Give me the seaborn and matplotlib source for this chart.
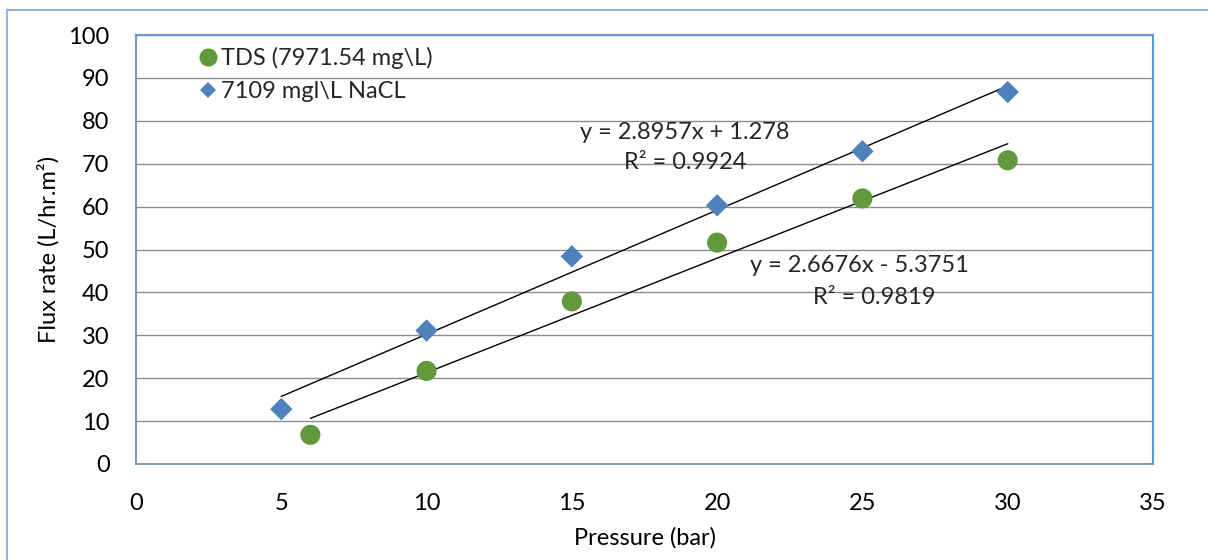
import numpy as np
import pandas as pd
import matplotlib
matplotlib.use("Agg")
import matplotlib.pyplot as plt
from matplotlib.patches import Rectangle
from matplotlib.lines import Line2D
import seaborn as sns

# Measured permeate flux versus applied pressure
nacl_label = "7109 mgl\\L NaCL"
tds_label = "TDS (7971.54 mg\\L)"

nacl_pressure = [5, 10, 15, 20, 25, 30]
nacl_flux = [12.8, 31.1, 48.4, 60.3, 72.9, 86.7]

tds_pressure = [6, 10, 15, 20, 25, 30]
tds_flux = [6.8, 21.7, 37.9, 51.6, 61.9, 70.8]

# Linear trendline coefficients (slope, intercept, R²)
nacl_fit = [2.8957, 1.278, 0.9924]
tds_fit = [2.6676, -5.3751, 0.9819]

x_ticks = [0, 5, 10, 15, 20, 25, 30, 35]
y_ticks = [0, 10, 20, 30, 40, 50, 60, 70, 80, 90, 100]

sns.set_theme(style="white")
plt.rcParams["font.family"] = ["Lato", "DejaVu Sans"]

GREEN = "#63993D"
BLUE = "#4F81BD"

fig = plt.figure(figsize=(12.08, 5.6), dpi=100)
ax = fig.add_axes([136 / 1208, 1 - 464 / 560, (1153 - 136) / 1208, (464 - 35) / 560])

df = pd.concat([
    pd.DataFrame({"Pressure": tds_pressure, "Flux": tds_flux, "Series": tds_label}),
    pd.DataFrame({"Pressure": nacl_pressure, "Flux": nacl_flux, "Series": nacl_label}),
])

sns.scatterplot(data=df[df.Series == tds_label], x="Pressure", y="Flux", ax=ax,
                color=GREEN, marker="o", s=210, edgecolor="none", zorder=4, legend=False)
sns.scatterplot(data=df[df.Series == nacl_label], x="Pressure", y="Flux", ax=ax,
                color=BLUE, marker="D", s=130, edgecolor="none", zorder=4, legend=False)

# Trendlines spanning each series' pressure range
for xs, (m, b, _) in [(nacl_pressure, nacl_fit), (tds_pressure, tds_fit)]:
    xx = np.array([min(xs), max(xs)])
    ax.plot(xx, m * xx + b, color="black", lw=1.0, zorder=3)

fs = 17
tfs = 17
ax.text(18.9, 77.3, f"y = {nacl_fit[0]:.4f}x + {nacl_fit[1]:.3f}", ha="center", va="center", fontsize=fs)
ax.text(18.9, 70.3, f"R² = {nacl_fit[2]:.4f}", ha="center", va="center", fontsize=fs)
ax.text(24.9, 46.3, f"y = {tds_fit[0]:.4f}x - {abs(tds_fit[1]):.4f}", ha="center", va="center", fontsize=fs)
ax.text(25.4, 38.8, f"R² = {tds_fit[2]:.4f}", ha="center", va="center", fontsize=fs)

ax.set_xlim(0, 35)
ax.set_ylim(0, 100)
ax.set_xticks(x_ticks)
ax.set_yticks(y_ticks)
ax.tick_params(axis="both", length=0, labelsize=tfs, labelcolor="black")
ax.tick_params(axis="x", pad=21)
ax.tick_params(axis="y", pad=19)
ax.yaxis.grid(True, color="#8C8C8C", lw=1.0)
ax.xaxis.grid(False)
ax.set_axisbelow(True)

for side in ["left", "bottom"]:
    ax.spines[side].set_color("#8497B0")
    ax.spines[side].set_linewidth(1.5)
for side in ["top", "right"]:
    ax.spines[side].set_color("#5B9BD5")
    ax.spines[side].set_linewidth(1.5)

ax.set_xlabel("Pressure (bar)", fontsize=fs, color="black", labelpad=9)
ax.set_ylabel("Flux rate (L/hr.m²)", fontsize=fs, color="black", labelpad=6)

handles = [
    Line2D([], [], ls="none", marker="o", color=GREEN, markersize=13, markeredgewidth=0),
    Line2D([], [], ls="none", marker="D", color=BLUE, markersize=8.5, markeredgewidth=0),
]
ax.legend(handles, [tds_label, nacl_label], loc="upper left", bbox_to_anchor=(0.048, 1.01),
          frameon=False, fontsize=fs, handlelength=0.6, handletextpad=0.25, labelspacing=0.5,
          borderpad=0.2)

# Chart-area border
fig.patches.append(Rectangle((7 / 1208, -0.5), 2.0, 0.5 + (560 - 10) / 560,
                             transform=fig.transFigure, fill=False,
                             edgecolor="#8DB4E2", lw=1.5, figure=fig))

fig.savefig("out.png", dpi=100, facecolor="white")
